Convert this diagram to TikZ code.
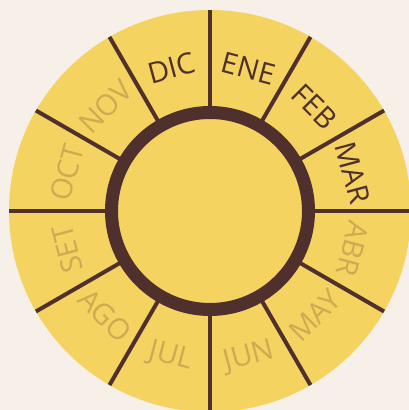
\documentclass[tikz,border=0pt]{standalone}
\usepackage{fontspec}
\setmainfont{Open Sans}
\definecolor{bgbeige}{RGB}{247,240,232}
\definecolor{sunyellow}{RGB}{244,211,96}
\definecolor{rimbrown}{RGB}{79,48,45}
\definecolor{fadetan}{RGB}{207,170,84}
\begin{document}
\begin{tikzpicture}[x=1pt, y=1pt, every node/.style={font=\fontsize{29}{31}\selectfont}]
  \tikzstyle{mon}=[inner sep=0pt,text height=21pt,text depth=0pt,text=rimbrown]
  \tikzstyle{off}=[mon,text=fadetan]
  \tikzstyle{spoke}=[draw=rimbrown,line width=4pt]
  \fill[bgbeige] (-210,-199) rectangle (199,211);
  \clip (-210,-199) rectangle (199,211);
  \fill[sunyellow] (0,0) circle (201);
  % spokes
  \draw[spoke] (0:201) -- (180:201);
  \draw[spoke] (30:201) -- (210:201);
  \draw[spoke] (60:201) -- (240:201);
  \draw[spoke] (90:201) -- (270:201);
  \draw[spoke] (120:201) -- (300:201);
  \draw[spoke] (150:201) -- (330:201);
  % hub
  \draw[rimbrown,fill=sunyellow,line width=13pt] (0,0) circle (98.5);
  % months
  \node[mon] (ene) at (75:148) [rotate=-15] {ENE};
  \node[mon] (feb) at (45:148) [rotate=-45] {FEB};
  \node[mon] (mar) at (15:148) [rotate=-75] {MAR};
  \node[off] (abr) at (-15:148) [rotate=-105] {ABR};
  \node[off] (may) at (-45:148) [rotate=45] {MAY};
  \node[off] (jun) at (-75:148) [rotate=15] {JUN};
  \node[off] (jul) at (-105:148) [rotate=-15] {JUL};
  \node[off] (ago) at (-135:148) [rotate=-45] {AGO};
  \node[off] (set) at (-165:148) [rotate=105] {SET};
  \node[off] (oct) at (165:148) [rotate=75] {OCT};
  \node[off] (nov) at (135:148) [rotate=45] {NOV};
  \node[mon] (dic) at (105:148) [rotate=15] {DIC};
\end{tikzpicture}
\end{document}
